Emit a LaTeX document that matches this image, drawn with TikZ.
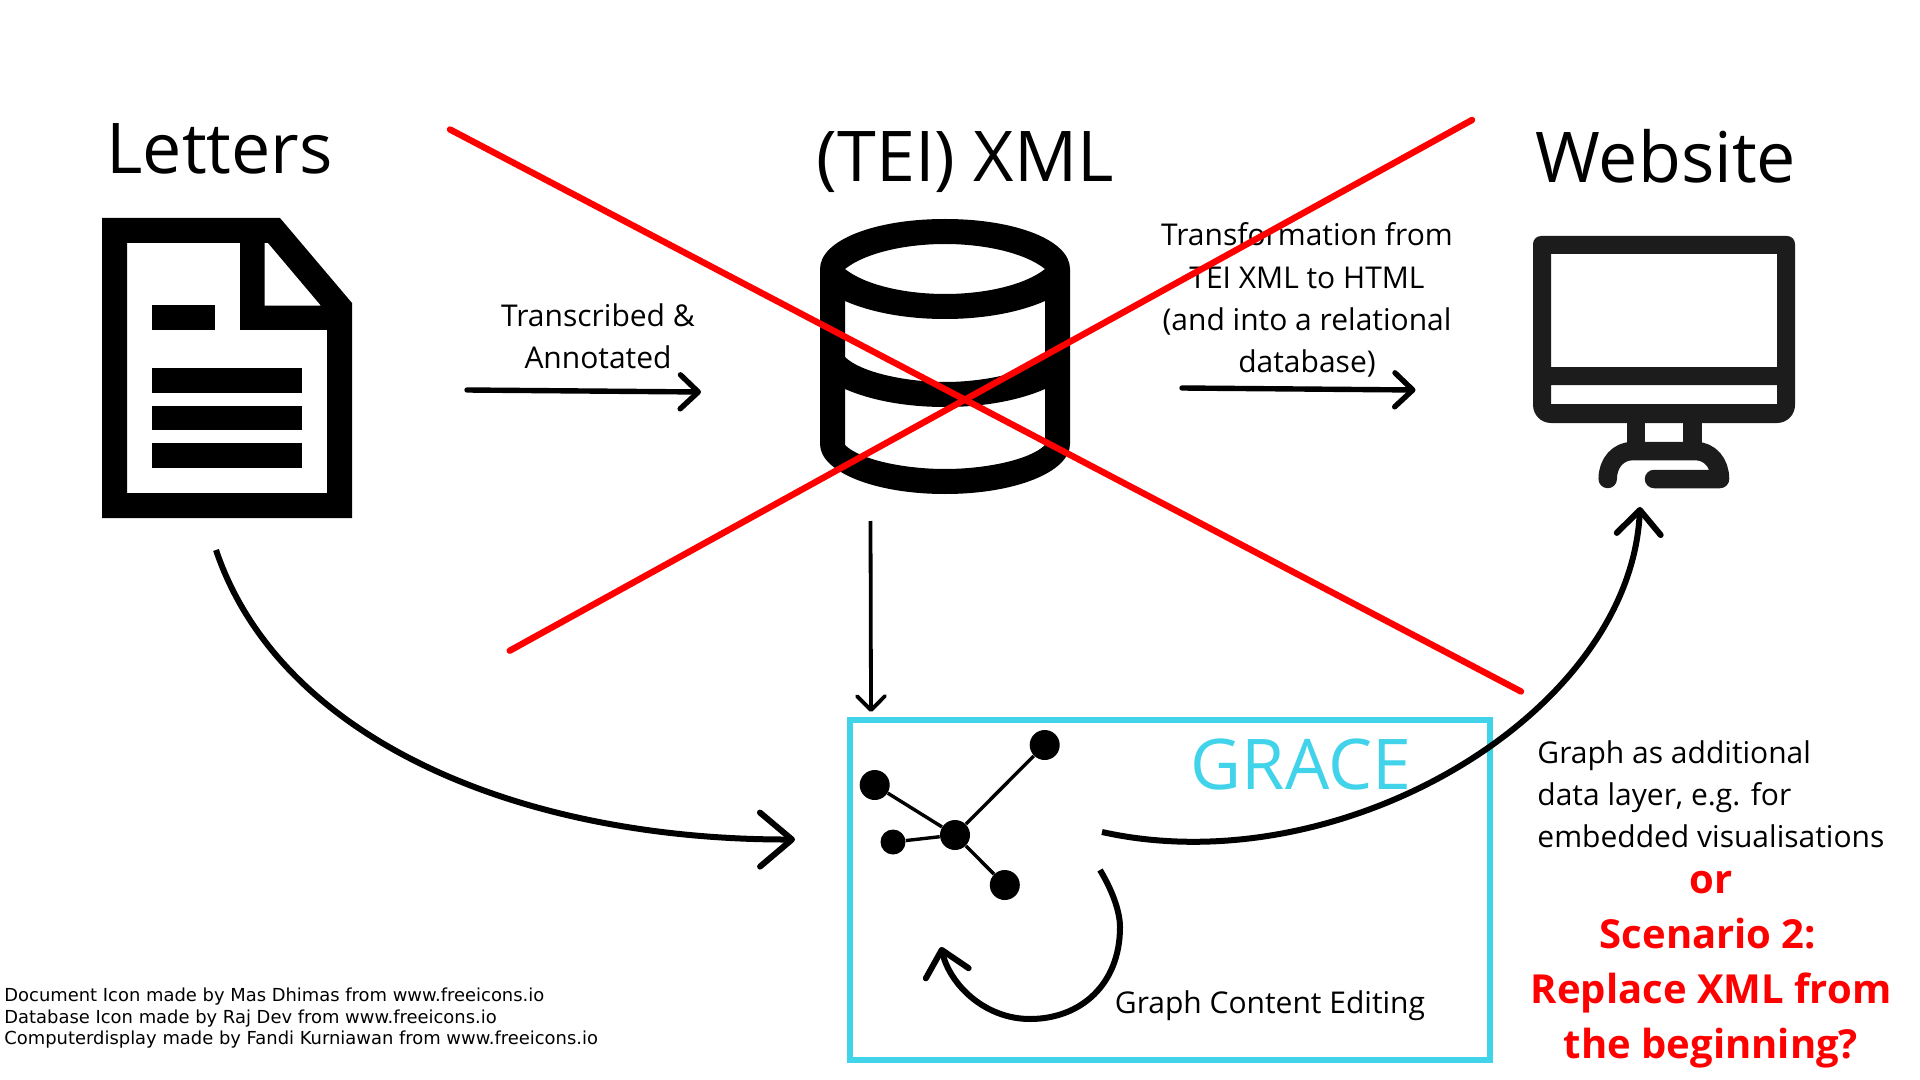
\documentclass[tikz,border=0pt]{standalone}
\usepackage{fontspec}
\setmainfont{Open Sans}
\newfontfamily\creditfont{DejaVu Sans}
\usetikzlibrary{arrows.meta}
\definecolor{gracecyan}{HTML}{41D3EA}
\definecolor{monitorgrey}{HTML}{1C1C1C}
\definecolor{xred}{HTML}{FF0000}
\tikzset{
  title/.style={anchor=base west,inner sep=0pt,font=\fontsize{35}{42}\selectfont},
  body/.style={anchor=base,inner sep=0pt,align=center,font=\fontsize{15}{21}\selectfont},
  bodyleft/.style={anchor=base west,inner sep=0pt,align=left,font=\fontsize{15}{21}\selectfont},
  redtext/.style={anchor=base,inner sep=0pt,text=xred,font=\fontsize{20}{27.5}\selectfont\bfseries},
  credit/.style={anchor=base west,inner sep=0pt,font=\fontsize{8.96}{11}\selectfont\creditfont},
  conn/.style={line width=2.7pt,line cap=round,-{Straight Barb[length=9pt,width=17pt,round]}},
  thin conn/.style={line width=1.9pt,-{Straight Barb[length=7pt,width=14pt,round]}},
  left conn/.style={line width=3pt,-{Straight Barb[length=16pt,width=27pt,round]}},
  right conn/.style={line width=3pt,-{Straight Barb[length=12pt,width=22pt,round]}},
  loop conn/.style={line width=3pt,-{Straight Barb[length=12pt,width=22pt,round]}},
  cross/.style={draw=xred,line width=3.2pt,line cap=round},
  gnode/.style={circle,fill=black,inner sep=0pt,minimum size=15pt},
  gsmall/.style={circle,fill=black,inner sep=0pt,minimum size=12.5pt},
  gedge/.style={draw=black,line width=1.7pt},
}
\begin{document}
\begin{tikzpicture}[x=0.5pt,y=-0.5pt]
\useasboundingbox (0,0) rectangle (1920,1080);

% Document icon
\fill[black,even odd rule]
  (102,218) -- (280,218) -- (352,303) -- (352,518) -- (102,518) -- cycle
  (127,243) -- (240,243) -- (240,330) -- (327,330) -- (327,493) -- (127,493) -- cycle
  (264.5,243) -- (268,243) -- (321,305.7) -- (264.5,305.7) -- cycle;
\fill[black] (152,305) rectangle (214.5,330.5);
\fill[black] (152,368) rectangle (302,392.7);
\fill[black] (152,405.7) rectangle (302,430);
\fill[black] (152,443) rectangle (302,467.7);

% Database icon
\fill[black,even odd rule]
  (820,269) .. controls (820,240) and (875,219) .. (945,219)
            .. controls (1015,219) and (1070,240) .. (1070,269)
  -- (1070,444) .. controls (1070,472) and (1015,494) .. (945,494)
            .. controls (875,494) and (820,472) .. (820,444) -- cycle
  (845,269) .. controls (865,253) and (905,244) .. (945,244)
            .. controls (985,244) and (1025,253) .. (1045,269)
            .. controls (1025,285) and (985,294) .. (945,294)
            .. controls (905,294) and (865,285) .. (845,269) -- cycle
  (845,301) .. controls (870,312) and (905,319) .. (945,319)
            .. controls (985,319) and (1020,312) .. (1045,301)
  -- (1045,357) .. controls (1030,372) and (985,382) .. (945,382)
            .. controls (905,382) and (860,372) .. (845,357) -- cycle
  (845,389) .. controls (870,400) and (905,407) .. (945,407)
            .. controls (985,407) and (1020,400) .. (1045,389)
  -- (1045,445) .. controls (1030,460) and (985,469) .. (945,469)
            .. controls (905,469) and (860,460) .. (845,445) -- cycle;

% Monitor icon
\fill[monitorgrey,even odd rule]
  (1533,330) [rounded corners=4pt] -- (1533,236) -- (1795,236)
  [rounded corners=9pt] -- (1795,423) -- (1533,423) [sharp corners] -- cycle
  (1551,254) rectangle (1777,367)
  (1551,385) rectangle (1777,404);
\fill[monitorgrey] (1626.7,420) rectangle (1645,445);
\fill[monitorgrey] (1683,420) rectangle (1701.7,445);
\draw[monitorgrey,line width=9.25pt,line cap=round,line join=round]
  (1607.7,479) .. controls (1607.7,463) and (1618,451) .. (1633,451)
  -- (1695,451) .. controls (1710,451) and (1720,463) .. (1720,479) -- (1654,479);

% Titles
\node[title] (tletters) at (106,174) {Letters};
\node[title] (txml) at (816.5,182) {(TEI) XML};
\node[title] (twebsite) at (1535,182.5) {Website};

% Labels
\node[body] (ltrans) at (598,368.5) {Transcribed \&\\Annotated};
\node[body] (lxform) at (1307,372) {Transformation from\\TEI XML to HTML\\(and into a relational\\database)};
\node[bodyleft] (lgraph) at (1537,847) {Graph as additional\\data layer, e.g. for\\embedded visualisations};
\node[bodyleft] (ledit) at (1114.5,1013.5) {Graph Content Editing};

% Red scenario text
\node[redtext] (ror) at (1711,893) {or};
\node[redtext] (rsc) at (1708,948.5) {Scenario 2:};
\node[redtext] (rrep) at (1711,1003.5) {Replace XML from};
\node[redtext] (rbeg) at (1711,1058.5) {the beginning?};

% Credits
\node[credit] (c1) at (4,1001) {Document Icon made by Mas Dhimas from www.freeicons.io};
\node[credit] (c2) at (4,1023) {Database Icon made by Raj Dev from www.freeicons.io};
\node[credit] (c3) at (4,1044) {Computerdisplay made by Fandi Kurniawan from www.freeicons.io};

% GRACE box
\node[draw=gracecyan,line width=3pt,minimum width=320pt,minimum height=170pt,inner sep=0pt] (grace) at (1170,890) {};
\node[title,text=gracecyan] (tgrace) at (1190.5,789) {GRACE};

% Graph
\node[gnode] (hub) at (955,835) {};
\node[gnode] (n1) at (1044.7,745) {};
\node[gnode] (n2) at (874.7,785) {};
\node[gsmall] (n3) at (893,842) {};
\node[gnode] (n4) at (1004.8,885) {};
\draw[gedge] (hub) -- (n1);
\draw[gedge] (hub) -- (n2);
\draw[gedge] (hub) -- (n3);
\draw[gedge] (hub) -- (n4);

% Connector end points
\coordinate (a1s) at (467,390);
\coordinate (a1e) at (701,392);
\coordinate (a2s) at (1182,388);
\coordinate (a2e) at (1415.5,390);
\coordinate (a3s) at (870.5,521);
\coordinate (a3e) at (871,712);
\coordinate (a4s) at (216,550);
\coordinate (a4e) at (795,839.5);
\coordinate (a5s) at (1102,832);
\coordinate (a5e) at (1640,507);
\coordinate (a6s) at (1100,870);
\coordinate (a6e) at (941,947);

% Connectors
\draw[conn] (a1s) -- (a1e);
\draw[conn] (a2s) -- (a2e);
\draw[thin conn] (a3s) -- (a3e);
\draw[left conn] (a4s) .. controls (280,740) and (520,840) .. (a4e);
\draw[right conn] (a5s) .. controls (1340,885) and (1630,715) .. (a5e);
\draw[loop conn] (a6s) .. controls (1115,895) and (1120,915) .. (1120,927)
   .. controls (1120,985) and (1080,1019) .. (1030,1019)
   .. controls (985,1019) and (950,985) .. (a6e);

% Red cross
\coordinate (x1s) at (450,129.5);
\coordinate (x1e) at (1521,691.5);
\coordinate (x2s) at (509.7,650.7);
\coordinate (x2e) at (1472,120);
\draw[cross] (x1s) -- (x1e);
\draw[cross] (x2s) -- (x2e);
\end{tikzpicture}
\end{document}
